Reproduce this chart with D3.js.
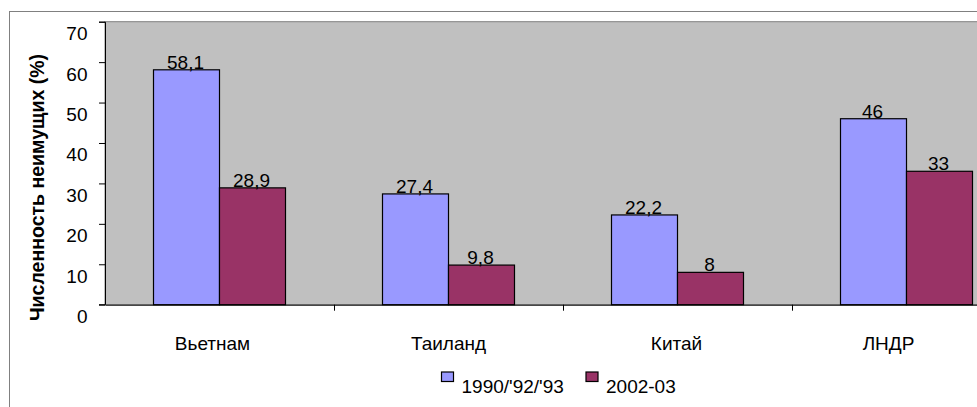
<!DOCTYPE html>
<html>
<head>
<meta charset="utf-8">
<script src="https://cdn.jsdelivr.net/npm/d3@7/dist/d3.min.js"></script>
<style>
  body { margin: 0; background: #fff; }
  text { font-family: "Liberation Sans", Arial, sans-serif; fill: #000; }
</style>
</head>
<body>
<div id="vis"></div>
<script>
// Data
var countries = ['Вьетнам', 'Таиланд', 'Китай', 'ЛНДР'];
var seriesNames = ["1990/'92/'93", '2002-03'];
var early = [58.1, 27.4, 22.2, 46];
var late = [28.9, 9.8, 8, 33];
var yTicks = [0, 10, 20, 30, 40, 50, 60, 70];

var colors = ['#9999FF', '#993366'];
var fontSize = '19px';
// category labels are not quite centred in the original
var labelShift = [-7, 0, -1, -18];

var width = 977, height = 407;
var margin = { left: 105, top: 21.7, right: 0, bottom: 102.3 };
var drawWidth = 4 * 229;
var drawHeight = height - margin.top - margin.bottom;

var svg = d3.select('#vis').append('svg')
    .attr('width', width)
    .attr('height', height);

// outer chart frame
svg.append('rect')
    .attr('x', 9.5).attr('y', 11.5)
    .attr('width', 1000).attr('height', 500)
    .attr('fill', '#fff')
    .attr('stroke', '#808080');

var g = svg.append('g')
    .attr('transform', 'translate(' + margin.left + ',' + margin.top + ')');

var xScale = d3.scaleBand()
    .domain(countries)
    .range([0, drawWidth]);

var yScale = d3.scaleLinear()
    .domain([0, 70])
    .range([drawHeight, 0]);

// plot background
g.append('rect')
    .attr('x', 0).attr('y', 0)
    .attr('width', drawWidth).attr('height', drawHeight)
    .attr('fill', '#C0C0C0')
    .attr('stroke', '#808080');

// bars
var barW = 66;
var rows = countries.map(function (c, i) {
    return { country: c, values: [early[i], late[i]] };
});

var groups = g.selectAll('.grp').data(rows).enter().append('g')
    .attr('class', 'grp')
    .attr('transform', function (d) {
        return 'translate(' + (xScale(d.country) + xScale.bandwidth() / 2 - barW) + ',0)';
    });

groups.selectAll('rect').data(function (d) { return d.values; }).enter().append('rect')
    .attr('x', function (d, i) { return i * barW; })
    .attr('y', function (d) { return yScale(d); })
    .attr('width', barW)
    .attr('height', function (d) { return drawHeight - yScale(d); })
    .attr('fill', function (d, i) { return colors[i]; })
    .attr('stroke', '#000')
    .attr('stroke-width', 1.2);

groups.selectAll('.lbl').data(function (d) { return d.values; }).enter().append('text')
    .attr('class', 'lbl')
    .attr('x', function (d, i) { return i * barW + barW / 2 - 1; })
    .attr('y', function (d) { return yScale(d) - 1; })
    .attr('text-anchor', 'middle')
    .style('font-size', fontSize)
    .text(function (d) { return String(d).replace('.', ','); });

// y axis
var yAxis = d3.axisLeft(yScale)
    .tickValues(yTicks)
    .tickSize(6)
    .tickPadding(11.5)
    .tickFormat(d3.format('d'));

var yAxisG = g.append('g').call(yAxis);
yAxisG.select('.domain').attr('stroke', '#000').attr('d', 'M-6,0.5H0.5V' + drawHeight + 'H-6');
yAxisG.selectAll('text')
    .attr('dy', null)
    .attr('y', 18)
    .style('font-size', fontSize)
    .style('font-family', '"Liberation Sans", Arial, sans-serif');

// x axis
var xAxisG = g.append('g')
    .attr('transform', 'translate(0,' + drawHeight + ')')
    .call(d3.axisBottom(xScale).tickSize(0));
xAxisG.select('.domain').attr('stroke', '#000');
xAxisG.selectAll('text')
    .attr('dy', null)
    .attr('y', 45.5)
    .attr('x', function (d, i) { return labelShift[i]; })
    .style('font-size', fontSize)
    .style('font-family', '"Liberation Sans", Arial, sans-serif');

// category separator ticks
g.selectAll('.sep').data(countries.slice(1)).enter().append('line')
    .attr('class', 'sep')
    .attr('x1', function (d) { return Math.round(xScale(d)) + 0.5; })
    .attr('x2', function (d) { return Math.round(xScale(d)) + 0.5; })
    .attr('y1', drawHeight)
    .attr('y2', drawHeight + 6)
    .attr('stroke', '#000');

// y title
svg.append('text')
    .attr('transform', 'translate(44,187.5) rotate(-90)')
    .attr('text-anchor', 'middle')
    .style('font-size', '19.5px')
    .style('font-weight', 'bold')
    .text('Численность неимущих (%)');

// legend
var legendX = [441, 585.5];
var legend = svg.selectAll('.leg').data(seriesNames).enter().append('g')
    .attr('class', 'leg')
    .attr('transform', function (d, i) { return 'translate(' + legendX[i] + ',371.5)'; });

legend.append('rect')
    .attr('x', 0.5).attr('y', 0.5)
    .attr('width', 12).attr('height', 9.5)
    .attr('fill', function (d, i) { return colors[i]; })
    .attr('stroke', '#000')
    .attr('stroke-width', 1.2);

legend.append('text')
    .attr('x', 20.5)
    .attr('y', 21.5)
    .style('font-size', fontSize)
    .text(function (d) { return d; });
</script>
</body>
</html>
